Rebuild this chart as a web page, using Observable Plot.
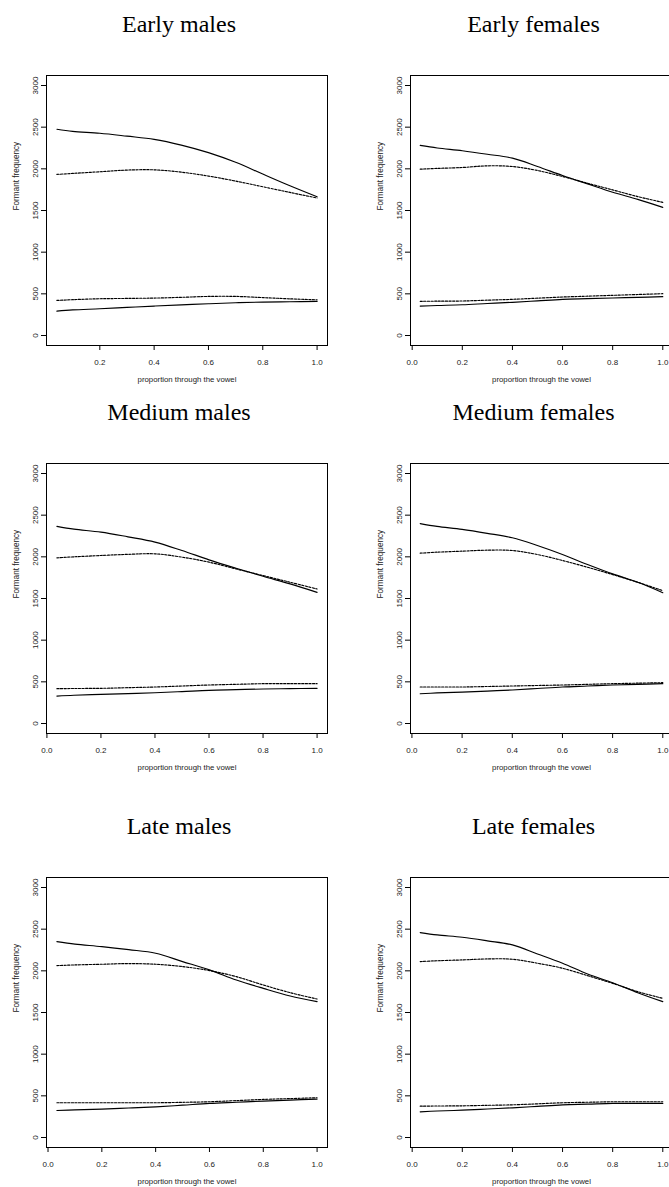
<!DOCTYPE html>
<html>
<head>
<meta charset="utf-8">
<script src="https://cdn.jsdelivr.net/npm/d3@7"></script>
<script src="https://cdn.jsdelivr.net/npm/@observablehq/plot@0.6"></script>
<style>
  html, body { margin: 0; padding: 0; background: #fff; overflow: hidden; }
  #wrap { position: relative; width: 669px; height: 1187px; overflow: hidden; background: #fff; }
  .panel { position: absolute; }
  .panel svg { max-width: none !important; overflow: visible; }
</style>
</head>
<body>
<div id="wrap"></div>
<script>
// ---------------- data ----------------
const panelTitles = ["Early males", "Early females", "Medium males", "Medium females", "Late males", "Late females"];
const xLabel = "proportion through the vowel";
const yLabel = "Formant frequency";
// first sample position of each panel, then common sample positions
const xStart = [0.042, 0.032, 0.037, 0.033, 0.033, 0.032];
const xSteps = [0.1, 0.2, 0.3, 0.4, 0.5, 0.6, 0.7, 0.8, 0.9, 1.0];
const yTicks = [0, 500, 1000, 1500, 2000, 2500, 3000];
const xTicksEarlyMales = [0.2, 0.4, 0.6, 0.8, 1.0];
const xTicksOther = [0.0, 0.2, 0.4, 0.6, 0.8, 1.0];

// F2 (upper) solid
const f2Solid = [
  [2475, 2450, 2427, 2392, 2354, 2285, 2194, 2078, 1937, 1797, 1665],
  [2281, 2250, 2217, 2175, 2128, 2028, 1920, 1819, 1719, 1634, 1538],
  [2365, 2332, 2297, 2240, 2177, 2076, 1964, 1863, 1767, 1675, 1574],
  [2398, 2365, 2329, 2282, 2229, 2136, 2028, 1908, 1795, 1695, 1570],
  [2351, 2321, 2291, 2254, 2211, 2111, 2011, 1890, 1790, 1698, 1630],
  [2459, 2431, 2403, 2360, 2311, 2203, 2091, 1962, 1858, 1738, 1630]
];
// F2 dashed
const f2Dashed = [
  [1933, 1945, 1965, 1985, 1988, 1960, 1913, 1853, 1785, 1717, 1650],
  [1996, 2005, 2016, 2036, 2028, 1980, 1908, 1827, 1747, 1667, 1598],
  [1988, 2000, 2016, 2030, 2036, 1996, 1936, 1855, 1775, 1695, 1614],
  [2044, 2056, 2068, 2080, 2076, 2028, 1956, 1875, 1787, 1695, 1594],
  [2063, 2071, 2079, 2087, 2079, 2051, 2003, 1930, 1830, 1738, 1662],
  [2111, 2121, 2131, 2143, 2139, 2091, 2031, 1942, 1850, 1750, 1670]
];
// F1 dashed
const f1Dashed = [
  [421, 430, 441, 445, 449, 458, 469, 469, 455, 440, 428],
  [410, 412, 414, 424, 434, 448, 462, 472, 482, 492, 502],
  [418, 420, 422, 430, 438, 450, 462, 470, 478, 478, 478],
  [438, 438, 438, 444, 450, 456, 462, 470, 478, 484, 490],
  [417, 417, 417, 417, 417, 422, 429, 443, 457, 467, 477],
  [376, 378, 380, 386, 392, 404, 417, 423, 429, 429, 429]
];
// F1 solid
const f1Solid = [
  [293, 307, 321, 337, 353, 368, 381, 393, 401, 405, 409],
  [353, 360, 369, 384, 398, 416, 434, 442, 450, 458, 466],
  [329, 339, 349, 359, 369, 383, 398, 406, 414, 418, 422],
  [357, 367, 377, 389, 402, 420, 438, 450, 462, 470, 478],
  [324, 332, 340, 354, 368, 388, 409, 423, 437, 449, 461],
  [308, 318, 328, 342, 356, 374, 392, 400, 409, 409, 409]
];

// ---------------- layout ----------------
const frameTops = [75, 462.5, 877];
const marginTop = 75, frameH = 270, marginBottom = 45;
const svgH = marginTop + frameH + marginBottom;
const colLeft = [0, 340];
const colMarginLeft = [46, 70];
const colFrameW = [281, 262];
const sansFont = "'Liberation Sans', Arial, Helvetica, sans-serif";
const serifFont = "'Liberation Serif', 'Times New Roman', Times, serif";

const wrap = document.getElementById("wrap");

panelTitles.forEach((title, i) => {
  const row = Math.floor(i / 2), col = i % 2;
  const x0 = xStart[i];
  const xs = [x0, ...xSteps];
  const pad = 0.04 * (1 - x0);
  const xDomain = [x0 - pad, 1 + pad];
  const mk = (arr, series) => arr[i].map((v, k) => ({x: xs[k], y: v, series}));
  const solidData = [...mk(f2Solid, "F2"), ...mk(f1Solid, "F1")];
  const dashedData = [...mk(f2Dashed, "F2"), ...mk(f1Dashed, "F1")];
  const xTicks = i === 0 ? xTicksEarlyMales : xTicksOther;
  const mL = colMarginLeft[col];
  const w = mL + colFrameW[col] + (col === 0 ? 13 : 0);

  const chart = Plot.plot({
    width: w,
    height: svgH,
    marginTop, marginBottom,
    marginLeft: mL,
    marginRight: col === 0 ? 13 : 0,
    x: {domain: xDomain, label: null},
    y: {domain: [-120, 3120], label: null},
    style: {background: "transparent", fontFamily: sansFont, color: "#000", overflow: "visible"},
    marks: [
      Plot.line(solidData, {x: "x", y: "y", z: "series", stroke: "#000", strokeWidth: 1.15, curve: "catmull-rom"}),
      Plot.line(dashedData, {x: "x", y: "y", z: "series", stroke: "#000", strokeWidth: 1.15, strokeDasharray: "2.2,1.4", curve: "catmull-rom"}),
      Plot.frame({stroke: "#000", strokeWidth: 1}),
      Plot.axisX({ticks: xTicks, tickSize: 5, tickPadding: 9, tickFormat: d3.format(".1f"), fontSize: 8, label: null, fill: "#222"}),
      Plot.axisY({ticks: yTicks, tickSize: 5, tickPadding: 4, tickRotate: -90, tickFormat: d => String(d), fontSize: 8, label: null, fill: "#222"}),
      Plot.text([xLabel], {text: d => d, frameAnchor: "bottom", dy: 36, fontSize: 7.8, fill: "#222"}),
      Plot.text([yLabel], {text: d => d, frameAnchor: "left", dx: -30, rotate: -90, fontSize: 8.2, fill: "#222"}),
      Plot.text([title], {text: d => d, frameAnchor: "top", dy: -44, dx: -8, lineAnchor: "bottom", fontFamily: serifFont, fontSize: 24, fontWeight: "normal", fill: "#000"})
    ]
  });
  const div = document.createElement("div");
  div.className = "panel";
  div.style.left = colLeft[col] + "px";
  div.style.top = (frameTops[row] - marginTop) + "px";
  div.appendChild(chart);
  wrap.appendChild(div);
});
</script>
</body>
</html>
